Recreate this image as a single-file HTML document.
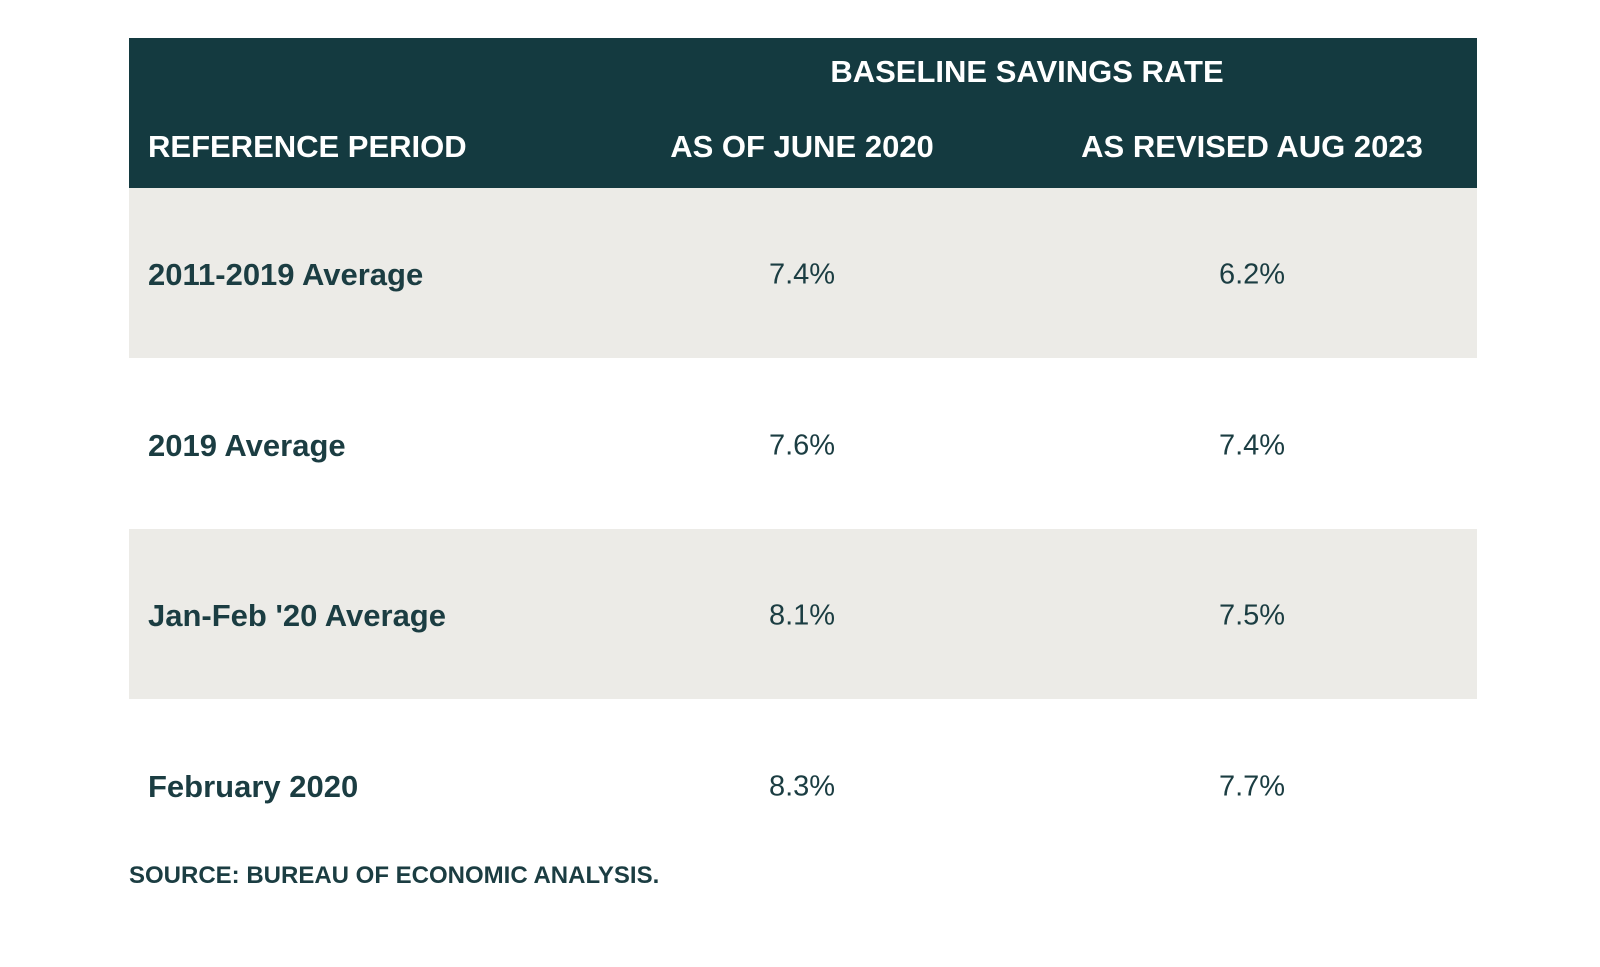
<!DOCTYPE html>
<html><head><meta charset="utf-8"><style>
body{margin:0;width:1600px;height:967px;background:#fff;font-family:"Liberation Sans",sans-serif;position:relative;overflow:hidden;color:#1b3d42}
.abs{position:absolute;white-space:nowrap}
.hdr{position:absolute;left:129px;top:38px;width:1348px;height:150px;background:#143a40}
.band{position:absolute;left:129px;width:1348px;height:170px;background:#ecebe7}
.h{color:#fff;font-size:31px;font-weight:bold;transform:translateY(-50%)}
.c{transform:translate(-50%,-50%)}
.l{transform:translateY(-50%)}
.cell{font-size:29px}
.lab{font-size:31px;font-weight:bold}
</style></head><body>
<div class="hdr"></div>
<div class="band" style="top:188px"></div>
<div class="band" style="top:529px"></div>
<div class="abs h" style="left:1027px;top:72px;transform:translate(-50%,-50%)">BASELINE SAVINGS RATE</div>
<div class="abs h" style="left:148px;top:147px">REFERENCE PERIOD</div>
<div class="abs h" style="left:802px;top:147px;transform:translate(-50%,-50%)">AS OF JUNE 2020</div>
<div class="abs h" style="left:1252px;top:147px;transform:translate(-50%,-50%)">AS REVISED AUG 2023</div>
<div id="rows"></div>
<div class="abs" style="left:129px;top:876px;transform:translateY(-50%);font-size:24px;font-weight:bold;color:#1b3d42">SOURCE: BUREAU OF ECONOMIC ANALYSIS.</div>
<script>
const periods=["2011-2019 Average","2019 Average","Jan-Feb '20 Average","February 2020"];
const june2020=[7.4,7.6,8.1,8.3];
const aug2023=[6.2,7.4,7.5,7.7];
const root=document.getElementById('rows');
periods.forEach((p,i)=>{
  const y=275+i*170.5;
  const a=document.createElement('div');
  a.className='abs lab l';a.style.left='148px';a.style.top=y+'px';a.textContent=p;
  
  
  root.appendChild(a);
  const b=document.createElement('div');
  b.className='abs cell c';b.style.left='802px';b.style.top=y+'px';b.textContent=june2020[i].toFixed(1)+'%';
  
  
  root.appendChild(b);
  const c=document.createElement('div');
  c.className='abs cell c';c.style.left='1252px';c.style.top=y+'px';c.textContent=aug2023[i].toFixed(1)+'%';
  
  
  root.appendChild(c);
});
</script>
</body></html>
